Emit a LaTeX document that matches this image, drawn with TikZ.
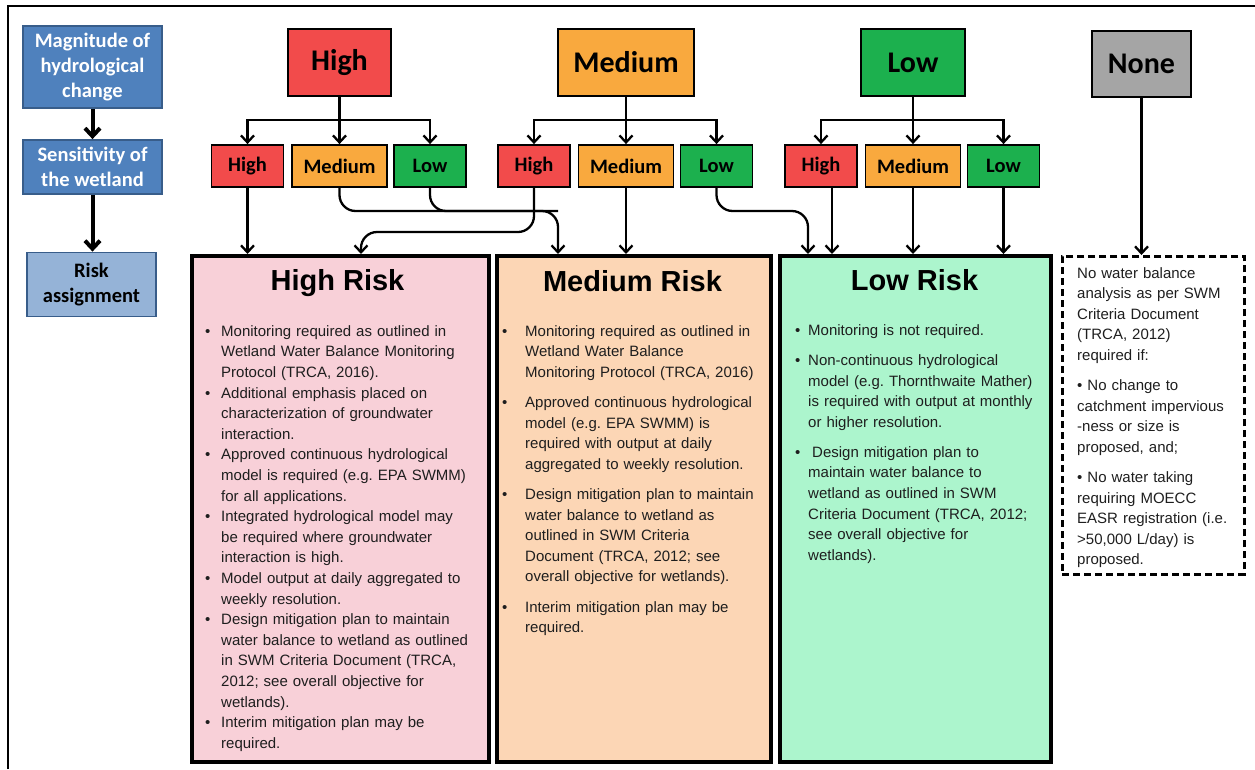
\documentclass[tikz,border=0pt]{standalone}
\usepackage{fontspec}
\setmainfont{Liberation Sans}
\newfontfamily\carlito{Carlito}
\usetikzlibrary{arrows.meta}
\frenchspacing
\definecolor{WLred}{HTML}{F24B4B}
\definecolor{WLorange}{HTML}{F9A93E}
\definecolor{WLgreen}{HTML}{1CB04E}
\definecolor{WLgray}{HTML}{A5A5A5}
\definecolor{WLblue}{HTML}{4F81BD}
\definecolor{WLblueLine}{HTML}{385D8A}
\definecolor{WLblueLight}{HTML}{95B3D7}
\definecolor{WLpink}{HTML}{F8D0D8}
\definecolor{WLpeach}{HTML}{FCD6B5}
\definecolor{WLmint}{HTML}{ACF5CD}
\definecolor{WLtext}{HTML}{1E1E1E}
\newlength{\itemgap}
\setlength{\itemgap}{16pt}
\newcommand{\riskitem}[1]{\par\hangindent=\itemgap\hangafter=1\noindent\makebox[\itemgap][l]{\textbullet}#1}

\begin{document}
\begin{tikzpicture}[x=1pt,y=-1pt,
  topbox/.style={draw=black,line width=2.2pt,minimum height=67pt,inner sep=0pt,font=\carlito\bfseries\fontsize{30}{36}\selectfont},
  subbox/.style={draw=black,line width=1.8pt,minimum height=42pt,inner sep=0pt,font=\carlito\bfseries\fontsize{20.5}{24}\selectfont},
  leftbox/.style={draw=WLblueLine,line width=1.8pt,align=center,inner sep=0pt,font=\carlito\bfseries\fontsize{20.5}{25}\selectfont},
  riskbox/.style={draw=black,line width=3.5pt,anchor=north west,inner sep=0pt},
  risktitle/.style={anchor=base,inner sep=0pt,font=\bfseries\fontsize{29}{34}\selectfont},
  bodytext/.style={anchor=north west,inner sep=0pt,text width=#1,text=WLtext,font=\fontsize{15}{20.6}\selectfont},
  link/.style={line width=2.3pt,-{Straight Barb[length=7pt,width=13pt]}},
  joinline/.style={line width=2.3pt},
  bigarrow/.style={line width=4pt,-{Straight Barb[length=8pt,width=15pt]}}]
\useasboundingbox (0,0) rectangle (1255,769);
\draw[line width=1.5pt] (8,769) -- (8,6) -- (1255,6);

% legend on the left
\node[leftbox,fill=WLblue,text=white,minimum width=139pt,minimum height=82pt] (mag) at (92.5,67) {Magnitude of\\hydrological\\change};
\node[leftbox,fill=WLblue,text=white,minimum width=139pt,minimum height=54pt] (sens) at (92.5,167) {Sensitivity of\\the wetland};
\node[leftbox,fill=WLblueLight,text=black,minimum width=129pt,minimum height=64pt] (asg) at (91.5,284.5) {Risk\\assignment};
\draw[bigarrow] (mag) -- (sens);
\draw[bigarrow] (sens) -- (sens |- asg.north);

% risk boxes
\node[riskbox,fill=WLpink,minimum width=297pt,minimum height=506pt] (hrisk) at (190,254) {};
\node[riskbox,fill=WLpeach,minimum width=274pt,minimum height=506pt] (mrisk) at (495,254) {};
\node[riskbox,fill=WLmint,minimum width=271pt,minimum height=506pt] (lrisk) at (778,254) {};
\node[riskbox,line width=2.5pt,dash pattern=on 7pt off 4pt,minimum width=182pt,minimum height=318pt] (nobox) at (1061,255) {};
\node[risktitle] (hrisk-t) at (337.5,290) {High Risk};
\node[risktitle] (mrisk-t) at (632.5,291) {Medium Risk};
\node[risktitle] (lrisk-t) at (914.5,290) {Low Risk};

% magnitude and sensitivity
\foreach \grp/\cx/\tw/\col/\lab in {h/339.5/103/WLred/High,m/626/136/WLorange/Medium,l/913/104/WLgreen/Low}{
  \node[topbox,fill=\col,minimum width=\tw pt] (t\grp) at (\cx,62.5) {\lab};
  \node[subbox,fill=WLred,minimum width=72pt] (\grp H) at (\cx-92,166) {High};
  \node[subbox,fill=WLorange,minimum width=95pt] (\grp M) at (\cx,166) {Medium};
  \node[subbox,fill=WLgreen,minimum width=72pt] (\grp L) at (\cx+90.5,166) {Low};
  \coordinate (\grp B) at (\cx,120);
  \draw[link] (t\grp) -- (\grp M);
  \draw[link] (\grp B) -| (\grp H);
  \draw[link] (\grp B) -| (\grp L);
}
\node[topbox,fill=WLgray,minimum width=99pt,minimum height=66pt] (tn) at (1141.5,64) {None};

% sensitivity to risk
\coordinate (busA) at (0,211);
\coordinate (busB) at (0,232);
\coordinate (hIn) at ([xshift=171pt]hrisk.north west);
\coordinate (mIn) at ([xshift=63pt]mrisk.north west);
\coordinate (lIn) at ([xshift=30pt]lrisk.north west);
\draw[link] (hH) -- (hH |- hrisk.north);
\draw[link] (hM.south) [rounded corners=16pt] |- (mIn |- busA) [rounded corners=3pt] -- (mIn);
\draw[joinline,rounded corners=16pt] (hL.south) |- (mIn |- busA);
\draw[link] (mH.south) [rounded corners=16pt] |- (hIn |- busB) [rounded corners=3pt] -- (hIn);
\draw[link] (mM) -- (mM |- mrisk.north);
\draw[link] (mL.south) [rounded corners=16pt] |- (lIn |- busA) [rounded corners=3pt] -- (lIn);
\draw[link] ([xshift=11pt]lH.south) -- ([xshift=11pt]lH.south |- lrisk.north);
\draw[link] (lM) -- (lM |- lrisk.north);
\draw[link] (lL) -- (lL |- lrisk.north);
\draw[link] (tn) -- (tn |- nobox.north);

% texts
\node[bodytext=275pt] (hrisk-b) at (205,315.4) {\raggedright
\riskitem{Monitoring required as outlined in\newline Wetland Water Balance Monitoring\newline Protocol (TRCA, 2016).}
\riskitem{Additional emphasis placed on\newline characterization of groundwater\newline interaction.}
\riskitem{Approved continuous hydrological\newline model is required (e.g. EPA SWMM)\newline for all applications.}
\riskitem{Integrated hydrological model may\newline be required where groundwater\newline interaction is high.}
\riskitem{Model output at daily aggregated to\newline weekly resolution.}
\riskitem{Design mitigation plan to maintain\newline water balance to wetland as outlined\newline in SWM Criteria Document (TRCA,\newline 2012; see overall objective for\newline wetlands).}
\riskitem{Interim mitigation plan may be\newline required.}\par};
\node[bodytext=262pt] (mrisk-b) at (502,306) {\raggedright\setlength{\parskip}{9.5pt}\setlength{\itemgap}{23pt}%
\riskitem{Monitoring required as outlined in\newline Wetland Water Balance\newline Monitoring Protocol (TRCA, 2016)}
\riskitem{Approved continuous hydrological\newline model (e.g. EPA SWMM) is\newline required with output at daily\newline aggregated to weekly resolution.}
\riskitem{Design mitigation plan to maintain\newline water balance to wetland as\newline outlined in SWM Criteria\newline Document (TRCA, 2012; see\newline overall objective for wetlands).}
\riskitem{Interim mitigation plan may be\newline required.}\par};
\node[bodytext=250pt] (lrisk-b) at (795,305) {\raggedright\setlength{\parskip}{9.5pt}\setlength{\itemgap}{13pt}%
\riskitem{Monitoring is not required.}
\riskitem{Non-continuous hydrological\newline model (e.g. Thornthwaite Mather)\newline is required with output at monthly\newline or higher resolution.}
\riskitem{\hspace{4pt}Design mitigation plan to\newline maintain water balance to\newline wetland as outlined in SWM\newline Criteria Document (TRCA, 2012;\newline see overall objective for\newline wetlands).}\par};
\node[bodytext=175pt] (nobox-b) at (1077,267) {\raggedright\setlength{\parskip}{9.5pt}%
No water balance\newline analysis as per SWM\newline Criteria Document\newline (TRCA, 2012)\newline required if:\par
\textbullet\ No change to\newline catchment impervious\newline -ness or size is\newline proposed, and;\par
\textbullet\ No water taking\newline requiring MOECC\newline EASR registration (i.e.\newline >50,000 L/day) is\newline proposed.\par};
\end{tikzpicture}
\end{document}
